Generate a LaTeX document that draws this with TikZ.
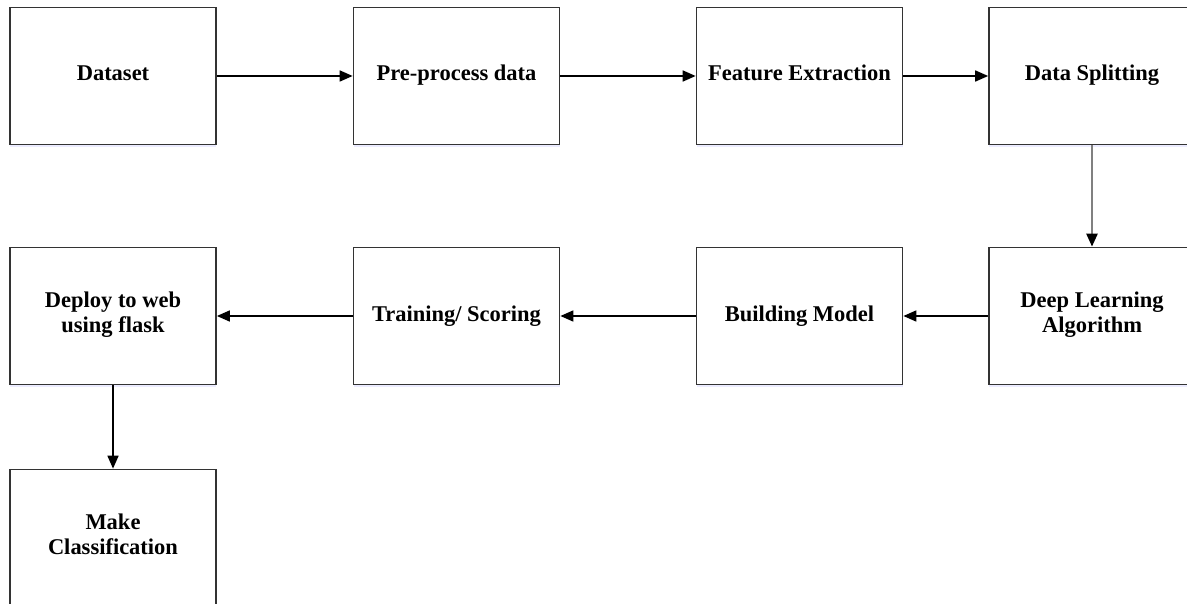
\documentclass[tikz,border=0pt]{standalone}
\usepackage{fontspec}
\setmainfont{Liberation Serif}
\usetikzlibrary{arrows.meta,shadows}
\tikzset{
  stepbox/.style={draw=black!80, line width=1.7pt, fill=white,
    minimum width=206pt, minimum height=137pt, inner sep=0pt,
    align=center, font=\fontsize{22.5}{25}\selectfont\bfseries,
    execute at begin node=\strut, execute at end node=\strut,
    drop shadow={shadow xshift=0pt, shadow yshift=-2.5pt, fill=blue!12!white, opacity=0.6}},
  flow/.style={draw=black, line width=1.7pt, -{Triangle[length=13pt,width=11pt]}},
  flowgray/.style={draw=black!50, line width=2.4pt, -{Triangle[length=13pt,width=11pt,color=black]}}
}
\begin{document}
\begin{tikzpicture}[x=1pt,y=-1pt]
\useasboundingbox (0,0) rectangle (1187,604);
% first row
\node[stepbox] (dataset) at (113,76) {Dataset};
\node[stepbox] (pre) at (456.5,76) {Pre-process data};
\node[stepbox] (feat) at (799.5,76) {Feature Extraction};
\node[stepbox] (split) at (1092,76) {Data Splitting};
% second row
\node[stepbox] (deploy) at (113,316) {Deploy to web\\using flask};
\node[stepbox] (train) at (456.5,316) {Training/ Scoring};
\node[stepbox] (build) at (799.5,316) {Building Model};
\node[stepbox] (deep) at (1092,316) {Deep Learning\\Algorithm};
% third row
\node[stepbox] (classify) at (113,538) {Make\\Classification};
% connectors
\draw[flow] (dataset) -- (pre);
\draw[flow] (pre) -- (feat);
\draw[flow] (feat) -- (split);
\draw[flowgray] (split) -- (deep);
\draw[flow] (deep) -- (build);
\draw[flow] (build) -- (train);
\draw[flow] (train) -- (deploy);
\draw[flow] (deploy) -- (classify);
\end{tikzpicture}
\end{document}
